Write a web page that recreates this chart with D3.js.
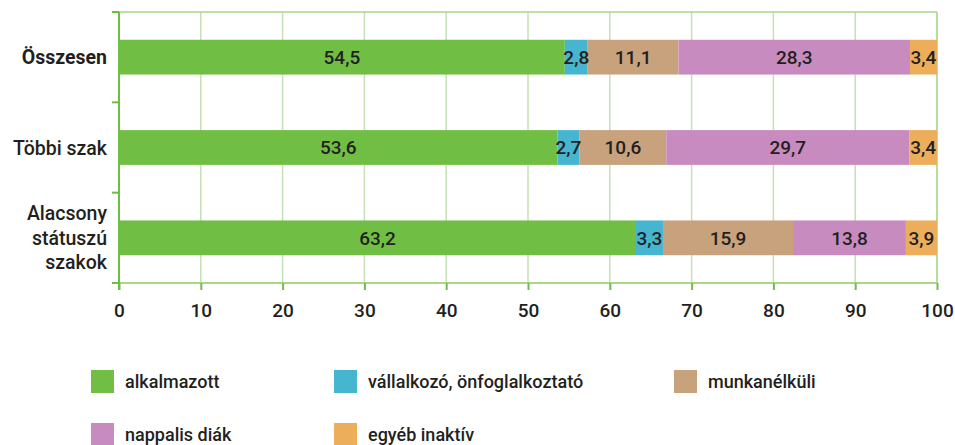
<!DOCTYPE html>
<html><head><meta charset="utf-8">
<script src="https://cdn.jsdelivr.net/npm/d3@7"></script>
<style>body{margin:0;background:#fff}text{font-family:Roboto,"DejaVu Sans",sans-serif;fill:#231f20}</style>
</head><body><svg id="c" width="955" height="445"></svg>
<script>
const categories = ["Összesen", "Többi szak", "Alacsony státuszú szakok"];
const categoryLines = [["Összesen"], ["Többi szak"], ["Alacsony", "státuszú", "szakok"]];
const seriesNames = ["alkalmazott", "vállalkozó, önfoglalkoztató", "munkanélküli", "nappalis diák", "egyéb inaktív"];
const alkalmazott = [54.5, 53.6, 63.2];
const vallalkozo = [2.8, 2.7, 3.3];
const munkanelkuli = [11.1, 10.6, 15.9];
const nappalis = [28.3, 29.7, 13.8];
const egyeb = [3.4, 3.4, 3.9];
const xTicks = [0, 10, 20, 30, 40, 50, 60, 70, 80, 90, 100];
const colors = ["#70bf44", "#45b5d0", "#c8a27c", "#c88bbf", "#ecae5b"];

const series = [alkalmazott, vallalkozo, munkanelkuli, nappalis, egyeb];
const svg = d3.select("#c");
const L = 119, R = 937, T = 12, B = 283;
const x = d3.scaleLinear().domain([0, 100]).range([L, R]);
const y = d3.scaleBand().domain(categories).range([T, B]).paddingInner(0.615).paddingOuter(0.3075);

// grid
svg.append("g").selectAll("line").data(xTicks.slice(1)).join("line")
  .attr("x1", d => x(d)).attr("x2", d => x(d)).attr("y1", T).attr("y2", B)
  .attr("stroke", d => d === 100 ? "#9fd27f" : "#c5e0b4").attr("stroke-width", 1.5);
svg.append("line").attr("x1", L).attr("x2", R).attr("y1", T).attr("y2", T).attr("stroke", "#a8d68a").attr("stroke-width", 1.5);

// bars
const rows = categories.map((c, i) => {
  let acc = 0;
  return series.map((s, k) => { const v = s[i]; const o = {cat: c, k, v, x0: acc, x1: acc + v}; acc += v; return o; });
}).flat();
svg.append("g").selectAll("rect").data(rows).join("rect")
  .attr("x", d => x(d.x0)).attr("width", d => Math.max(0, Math.min(x(d.x1), R) - x(d.x0)))
  .attr("y", d => y(d.cat)).attr("height", y.bandwidth())
  .attr("fill", d => colors[d.k]);
svg.append("g").selectAll("text").data(rows).join("text")
  .attr("x", d => (x(d.x0) + Math.min(x(d.x1), R)) / 2).attr("y", d => y(d.cat) + y.bandwidth() / 2)
  .attr("dy", "0.36em").attr("text-anchor", "middle").style("font-size", "19px").style("font-weight", "500")
  .text(d => d.v.toFixed(1).replace(".", ","));

// axes
const xAxis = d3.axisBottom(x).tickValues(xTicks).tickSize(7).tickPadding(14).tickFormat(d => d);
const gx = svg.append("g").attr("transform", `translate(0,${B})`).call(xAxis);
gx.select(".domain").attr("stroke", "#a8d68a").attr("stroke-width", 2).attr("d", `M${L},0H${R}`);
gx.selectAll(".tick line").attr("stroke", "#6dbe45").attr("stroke-width", 2);
gx.selectAll(".tick text").style("font-size", "19px").style("font-weight", "500").attr("fill", "#231f20");

const yEdges = [T, (y(categories[0]) + y.bandwidth() + y(categories[1])) / 2, (y(categories[1]) + y.bandwidth() + y(categories[2])) / 2, B];
svg.append("line").attr("x1", L).attr("x2", L).attr("y1", T).attr("y2", B + 7).attr("stroke", "#6dbe45").attr("stroke-width", 2);
svg.append("g").selectAll("line").data(yEdges).join("line")
  .attr("x1", L - 7).attr("x2", L).attr("y1", d => d).attr("y2", d => d).attr("stroke", "#6dbe45").attr("stroke-width", 2);

// category labels
categories.forEach((c, i) => {
  const lines = categoryLines[i];
  const cy = y(c) + y.bandwidth() / 2;
  const lh = 24.5;
  const t = svg.append("text").attr("text-anchor", "end").style("font-size", "19.5px")
    .style("font-weight", i === 0 ? "700" : "500");
  lines.forEach((ln, j) => {
    t.append("tspan").attr("x", 107).attr("y", cy + (j - (lines.length - 1) / 2) * lh).attr("dy", "0.36em").text(ln);
  });
});

// legend
const legPos = [[91, 370], [334, 370], [674, 370], [91, 423], [334, 423]];
const lg = svg.append("g").selectAll("g").data(seriesNames).join("g")
  .attr("transform", (d, i) => `translate(${legPos[i][0]},${legPos[i][1]})`);
lg.append("rect").attr("width", 23).attr("height", 23).attr("fill", (d, i) => colors[i]);
lg.append("text").attr("x", 34).attr("y", 11.5).attr("dy", "0.36em").style("font-size", "18px").style("font-weight", "500").text(d => d);
</script></body></html>
